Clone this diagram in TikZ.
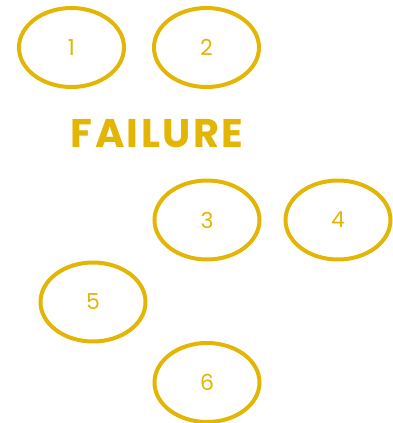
\documentclass[tikz,border=0pt]{standalone}
\usepackage{fontspec}
\setmainfont{Poppins}
\newfontfamily\titlefont[LetterSpace=6]{Poppins}
\usetikzlibrary{shapes.geometric}
\definecolor{gold}{HTML}{E3B505}
\begin{document}
\begin{tikzpicture}[x=1pt,y=-1pt,
  oval/.style={draw=gold,line width=4pt,ellipse,minimum width=105pt,minimum height=79pt,inner sep=0pt,text=gold,font=\fontsize{22}{22}\selectfont},
  title/.style={text=gold,font=\titlefont\fontsize{40}{40}\selectfont\bfseries}]
\useasboundingbox (0,0) rectangle (393,423);
\node[oval] (n1) at (71.5,47.5) {1};
\node[oval] (n2) at (206.5,47.5) {2};
\node[title] (fail) at (157,133.5) {FAILURE};
\node[oval] (n3) at (207,220) {3};
\node[oval] (n4) at (338,220) {4};
\node[oval] (n5) at (93,302) {5};
\node[oval] (n6) at (207,382.5) {6};
\end{tikzpicture}
\end{document}
